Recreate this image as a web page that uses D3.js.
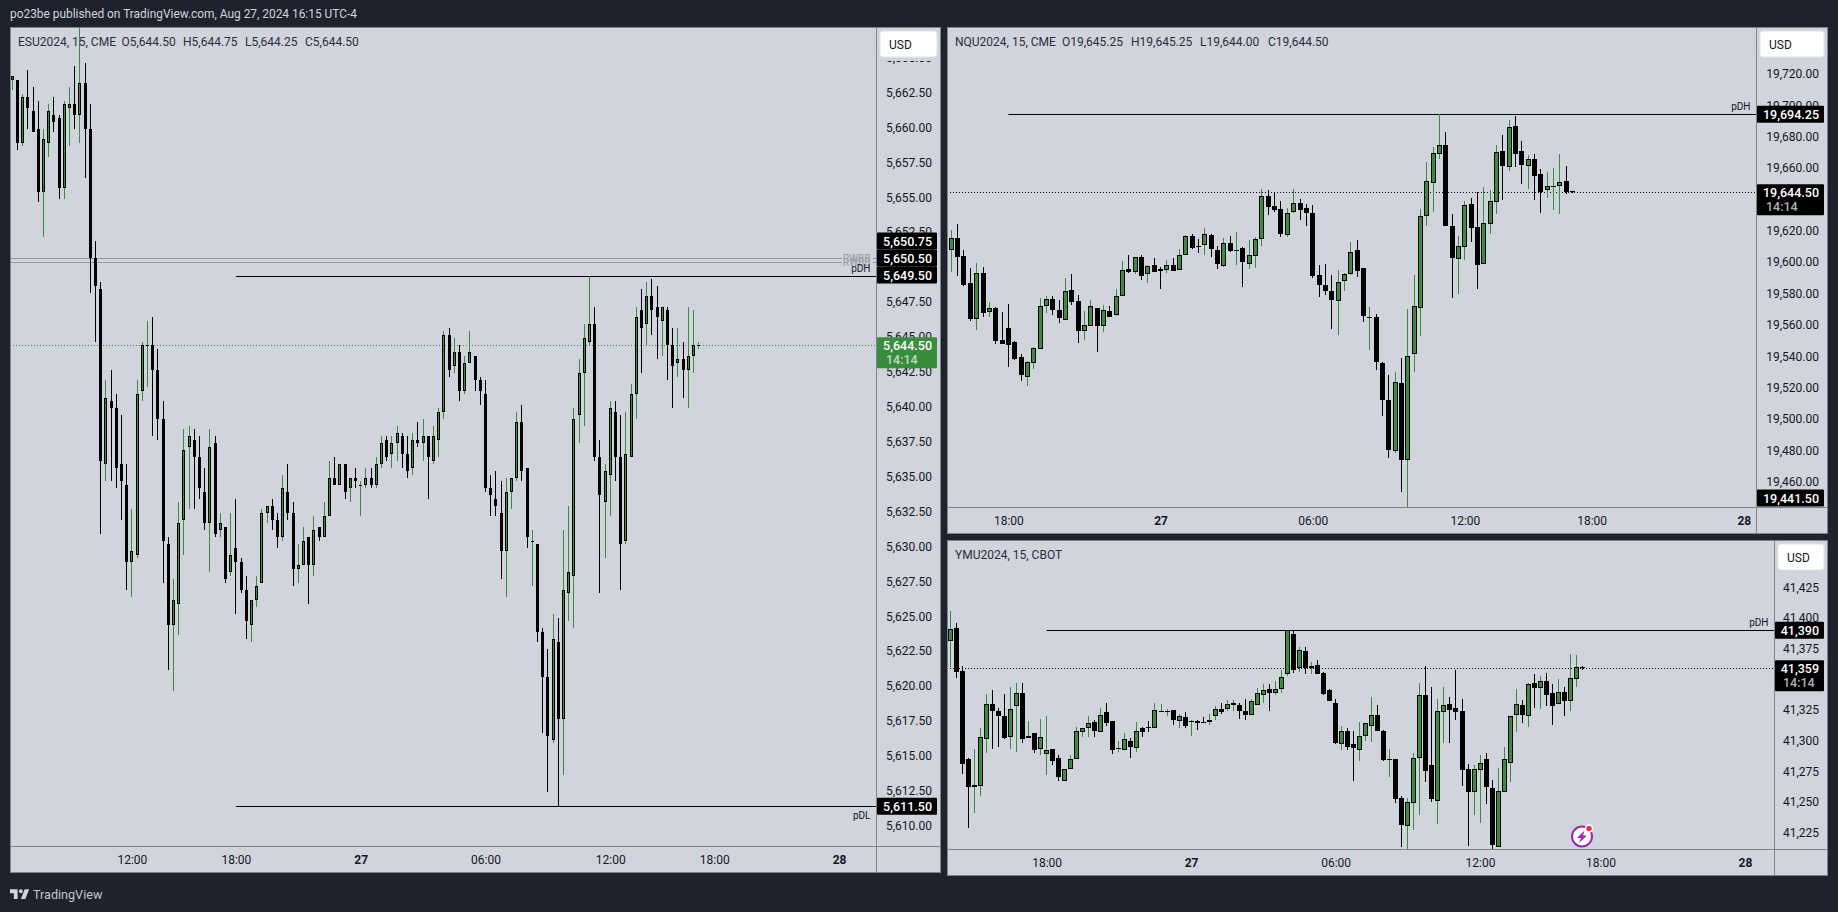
<!DOCTYPE html>
<html><head><meta charset="utf-8">
<script src="https://cdn.jsdelivr.net/npm/d3@7/dist/d3.min.js"></script>
<style>html,body{margin:0;padding:0;background:#1e222d;overflow:hidden}svg{display:block}text{font-family:Roboto,"Liberation Sans",sans-serif}</style>
</head><body><svg id="c" width="1838" height="912"></svg>
<script>
// [open, high, low, close]
const esCandles=[
[5663.5,5663.75,5662.75,5663.75],[5663.5,5663.5,5658.5,5659],[5659,5662.5,5658.75,5662.25],[5662.25,5664.25,5660,5661.5],[5661.25,5663,5659.75,5659.75],
[5660,5662,5654.75,5655.5],[5655.5,5660,5652.25,5659.25],[5659,5661.75,5658,5661.25],[5661,5662.25,5659.75,5660.5],[5660.75,5661,5655,5655.75],
[5655.75,5662,5655,5661.75],[5661.5,5663,5658.75,5661.75],[5661.75,5664.5,5660,5661],[5661,5667.5,5659,5663.25],[5663.25,5664.75,5656.5,5660],
[5660,5661.75,5648.25,5650.75],[5650.75,5652,5644.75,5648.75],[5648.5,5649,5631,5636.25],[5636,5642,5634.75,5640.75],[5640.5,5642.75,5634.75,5640],
[5640,5641,5634.25,5635.75],[5636,5639.5,5632,5634.75],[5634.5,5636,5627,5629],[5629,5632.75,5626.5,5629.75],[5629.5,5642,5629.25,5641],
[5641.25,5644.75,5640.5,5644.5],[5644.5,5646.25,5641.5,5644.5],[5644.5,5646.5,5638,5642.75],[5642.75,5644.25,5637.75,5639.25],[5639.25,5640.5,5627.5,5630.5],
[5630.25,5630.75,5621.25,5624.5],[5624.5,5627.75,5619.75,5626.25],[5626,5633.25,5623.75,5631.75],[5632,5638.5,5629.5,5637],[5637.25,5638.75,5632.75,5638],
[5637.75,5638.5,5632.75,5636.5],[5636.5,5638,5633.5,5634.25],[5634,5635.75,5631.25,5631.75],[5631.75,5638.5,5628.25,5637.25],[5637.5,5638,5630.75,5631],
[5631.25,5632.5,5630.75,5631.75],[5631.5,5631.5,5627.5,5627.75],[5628.25,5632.5,5628,5629.5],[5630,5633.5,5625.25,5629],[5629,5629.25,5626.75,5627],
[5627,5628,5623.5,5624.75],[5624.5,5626.25,5623.25,5626.25],[5626.25,5628,5625.75,5627.25],[5627.5,5632.75,5627.5,5632.5],[5632.5,5633,5631.75,5633],
[5633,5633.5,5631.25,5632],[5632,5632.5,5630,5630.75],[5630.75,5635.25,5630.5,5634.25],[5634,5636,5632,5632.5],[5632.5,5633.25,5627.25,5628.5],
[5628.5,5630.25,5627.5,5628.75],[5628.75,5631.5,5628.75,5630.5],[5630.75,5630.75,5626,5628.75],[5628.75,5632.25,5628,5631.25],[5631.5,5631.5,5630.5,5630.75],
[5630.75,5633.25,5630.75,5632.25],[5632.25,5636.25,5632.25,5635],[5635,5636.5,5634.5,5634.5],[5634.5,5636,5634.5,5636],[5636,5636,5633.5,5634],
[5634.25,5635,5633.25,5635],[5635,5635.75,5634.25,5634.75],[5634.5,5634.75,5632.25,5634.5],[5634.5,5635.75,5634.25,5635],[5635,5635.75,5634.25,5634.5],
[5634.5,5636.5,5634.25,5636],[5636,5638,5635.75,5637.5],[5637.75,5638,5636.25,5636.5],[5636.75,5638,5635.75,5637.5],[5637.5,5638.75,5636.25,5638.25],
[5638,5638.25,5635.75,5636.75],[5636.75,5638,5635,5635.5],[5635.75,5638.25,5635.25,5637.75],[5637.75,5639,5637.25,5637.5],[5637.5,5639.25,5636.25,5638],
[5638,5638,5633.5,5636.5],[5636.25,5638.75,5636,5638],[5637.75,5640,5636.5,5639.75],[5639.75,5645.5,5639.25,5645.25],[5645.25,5645.75,5642.25,5642.75],
[5643,5645,5642.5,5644],[5644,5644.5,5640.5,5641.25],[5641.25,5643.75,5641,5643.25],[5643.25,5645.5,5643.25,5644],[5643.75,5643.75,5641.25,5642],
[5642,5642.25,5640.25,5641.25],[5641,5642,5634,5634.25],[5634.25,5635.25,5632.25,5633.75],[5633.5,5635.5,5632.25,5633],[5632.5,5634.75,5627.75,5629.75],
[5629.75,5635,5626.5,5634],[5634,5635,5632.75,5635],[5635,5639.75,5634.75,5639],[5639,5640.25,5634.75,5635.5],[5635.75,5635.75,5630,5630.75],
[5630.5,5631.25,5627.25,5630.5],[5630.25,5630.25,5623.25,5624],[5624,5624.25,5616.75,5620.75],[5620.75,5622.75,5612.5,5616.5],[5616.25,5625.25,5616,5623.5],
[5623.25,5625,5611.5,5617.75],[5617.75,5631.25,5613.75,5627],[5626.75,5633,5624.75,5628.25],[5628,5640,5624.25,5639.25],[5639.5,5643.5,5637.5,5642.5],
[5642.5,5646,5638.75,5645],[5644.75,5649.5,5644.5,5646],[5646,5647.25,5636.25,5636.5],[5636.5,5637.75,5626.75,5633.75],[5633.25,5636,5629.25,5635.5],
[5635.25,5640.5,5632.25,5640],[5639.75,5640.5,5634.75,5636.5],[5636.5,5639.5,5627,5630.25],[5630.5,5639.75,5630.25,5636.75],[5636.5,5641.75,5636.5,5641],
[5641,5647.25,5639.25,5646.5],[5647,5648.5,5642.5,5645.75],[5646,5649,5644.5,5648],[5648,5649.25,5645.25,5647],[5647.25,5648.75,5643.5,5646.5],
[5646.25,5647.25,5643.75,5647.25],[5647,5647.25,5642,5644.5],[5644.5,5645.75,5640,5643],[5643.25,5645.75,5642.25,5643.5],[5643.5,5644.75,5640.75,5642.75],
[5642.75,5647.25,5640,5643.75],[5643.75,5647,5642.5,5644.5],[5644.5,5644.75,5644.25,5644.5]];
const nqCandles=[
[19608,19620.25,19593.75,19615.25],[19615.25,19624,19591,19603.5],[19603.75,19607.75,19584.75,19585.5],[19586.75,19596.25,19562.5,19563.75],[19563.75,19599.25,19556.75,19592.75],
[19592.75,19597,19565,19567.5],[19568.25,19574.5,19565,19570.5],[19570.5,19571.25,19547.75,19549.75],[19550,19568.25,19547.75,19547.75],[19557.75,19573.25,19533,19547],
[19548.75,19549.5,19537.5,19538.25],[19539.25,19541.5,19524.25,19528],[19526.75,19536.75,19521,19536],[19535.75,19545.75,19531.75,19545],[19544.75,19577,19544.75,19571.75],
[19572,19578.25,19567.5,19576.25],[19576.25,19578.25,19566.25,19569.5],[19569.75,19575.75,19561,19564.25],[19563,19589.75,19563,19581.25],[19582,19592.5,19572.5,19574.5],
[19575.5,19578.75,19548.5,19556],[19556,19568.75,19550.25,19559.75],[19559.25,19575.75,19559.25,19571.75],[19570.5,19570.5,19542.75,19559.25],[19559.25,19572.75,19555.5,19569.75],
[19568.75,19572,19565,19565],[19566.25,19582.75,19565.5,19578.25],[19578.25,19600.75,19578.25,19594.75],[19595.5,19604.5,19593,19593.75],[19593.75,19603,19592.5,19603],
[19603,19604.5,19588.5,19591],[19592.5,19598,19586.75,19597.25],[19598,19602.5,19593.75,19594],[19595.5,19596.75,19582.75,19594.5],[19595,19601.25,19593,19598],
[19598,19602.5,19594.25,19594.25],[19595,19608.25,19595,19604.25],[19604.5,19617.25,19604.5,19616.5],[19616.5,19618,19608.25,19609],[19610.25,19614.5,19605.75,19610],
[19611,19621.75,19604.5,19617.75],[19617,19618,19603.25,19608.25],[19608,19610.25,19595.5,19599],[19597.75,19615.25,19597,19612.5],[19612,19616.5,19606.5,19607],
[19608,19619.25,19598,19608],[19608.75,19609.5,19584,19600],[19599,19614,19595.5,19604.25],[19604,19615.75,19596.25,19614.5],[19615,19646.5,19610.25,19642],
[19642,19645.75,19630,19635.25],[19635.5,19644.5,19632,19633.25],[19633.75,19638.75,19616,19618],[19617.5,19634.25,19616,19631],[19632.25,19646.5,19631.5,19637.5],
[19637.5,19640,19626.75,19633.5],[19634.25,19637,19623,19631.5],[19631,19636.25,19589.75,19591],[19591.5,19598,19577.75,19585.5],[19585.25,19598.75,19579,19581.75],
[19581.25,19591.75,19557.25,19575.75],[19575.5,19595,19553.5,19587],[19588.25,19593,19581.5,19592.25],[19592.5,19612.75,19591.75,19606.75],[19607.5,19614,19590.5,19594.25],
[19596,19596,19561.75,19565.5],[19565.25,19571.25,19544,19565.25],[19564.75,19566.75,19531.25,19536.25],[19535.5,19536.25,19501.75,19512],[19511.75,19528,19475,19480],
[19479.75,19530,19478.5,19523.25],[19522.75,19538.75,19453.25,19473.75],[19473.75,19570,19441.5,19540],[19541.5,19591.75,19530,19571.75],[19570.75,19633.75,19552.75,19629.25],
[19629.5,19663.75,19623,19651.5],[19650.5,19673.5,19632,19669.5],[19669,19694.25,19665.75,19675],[19675,19683,19623,19623],[19623,19630.75,19577,19602.5],
[19602,19616.75,19579.75,19610],[19609.75,19638.75,19601.25,19636.25],[19636.75,19641,19612.75,19621.75],[19622.5,19644.5,19582.75,19598],[19598.75,19647.75,19598.75,19624.75],
[19624.25,19645.75,19618,19638.75],[19638.5,19675,19630.75,19670],[19670.75,19681,19639.5,19661.25],[19660.75,19690.75,19658,19686],[19686.5,19693.25,19660.75,19669],
[19670.75,19677,19649.75,19662],[19661.5,19668.25,19646.5,19665.5],[19665.5,19669,19639.5,19655],[19656.25,19659.5,19631.25,19644.75],[19646.25,19657.5,19641,19648.25],
[19648.25,19660,19633.25,19648.75],[19648.75,19669,19630.75,19651],[19651.75,19661.25,19643.5,19644.75],[19645.25,19645.25,19644,19644.5]];
const ymCandles=[
[41381,41406,41360,41391],[41392,41396,41351,41356],[41357,41361,41273,41281],[41285,41286,41229,41262],[41262,41293,41241,41264],
[41263,41310,41255,41303],[41301,41338,41290,41330],[41330,41341,41293,41324],[41324,41327,41295,41320],[41320,41338,41301,41302],
[41303,41344,41293,41326],[41328,41347,41291,41339],[41339,41347,41298,41301],[41302,41316,41302,41304],[41306,41306,41290,41292],
[41293,41318,41288,41303],[41289,41320,41272,41292],[41293,41293,41280,41283],[41286,41288,41267,41270],[41267,41277,41267,41277],
[41277,41288,41277,41285],[41285,41311,41285,41308],[41307,41310,41303,41310],[41310,41320,41303,41314],[41315,41317,41303,41308],
[41307,41327,41307,41321],[41323,41331,41312,41314],[41316,41316,41289,41292],[41294,41300,41291,41294],[41292,41306,41292,41301],
[41300,41302,41286,41295],[41294,41315,41291,41308],[41310,41311,41303,41307],[41311,41316,41307,41310],[41310,41331,41310,41325],
[41323,41330,41323,41324],[41324,41326,41320,41324],[41325,41325,41313,41317],[41316,41322,41310,41320],[41319,41323,41310,41312],
[41316,41317,41304,41316],[41316,41317,41309,41314],[41315,41319,41314,41314],[41315,41322,41313,41317],[41320,41328,41317,41326],
[41326,41331,41322,41323],[41326,41333,41324,41330],[41329,41333,41324,41331],[41329,41331,41318,41324],[41324,41334,41317,41321],
[41321,41334,41321,41332],[41329,41343,41329,41339],[41337,41346,41331,41341],[41342,41346,41324,41339],[41339,41349,41337,41342],
[41342,41358,41339,41352],[41354,41390,41353,41390],[41387,41390,41355,41358],[41359,41376,41356,41374],[41373,41376,41354,41359],
[41359,41364,41354,41361],[41362,41366,41354,41354],[41355,41356,41337,41338],[41341,41342,41332,41332],[41331,41334,41297,41298],
[41297,41312,41292,41308],[41308,41310,41292,41295],[41297,41308,41267,41294],[41292,41315,41283,41304],[41304,41314,41300,41314],
[41312,41336,41299,41321],[41321,41329,41308,41308],[41308,41309,41283,41284],[41285,41293,41270,41285],[41285,41285,41249,41252],
[41253,41255,41213,41231],[41230,41253,41211,41250],[41249,41290,41227,41286],[41286,41347,41239,41337],[41337,41361,41266,41275],
[41280,41344,41250,41252],[41251,41334,41232,41324],[41323,41344,41298,41329],[41330,41336,41298,41325],[41327,41358,41317,41323],
[41324,41334,41263,41276],[41277,41281,41214,41258],[41258,41280,41239,41277],[41276,41288,41233,41282],[41285,41290,41248,41262],
[41261,41268,41212,41215],[41213,41278,41213,41259],[41258,41295,41258,41285],[41282,41320,41266,41320],[41321,41342,41307,41330],
[41329,41333,41314,41321],[41320,41347,41311,41346],[41347,41354,41327,41343],[41343,41353,41326,41349],[41349,41355,41328,41337],
[41339,41346,41313,41328],[41330,41350,41330,41340],[41340,41344,41320,41332],[41332,41371,41324,41351],[41350,41370,41344,41360],
[41360,41361,41358,41359]];

const esTicks=[5665,5662.5,5660,5657.5,5655,5652.5,5650,5647.5,5645,5642.5,5640,5637.5,5635,5632.5,5630,5627.5,5625,5622.5,5620,5617.5,5615,5612.5,5610];
const nqTicks=[19720,19700,19680,19660,19640,19620,19600,19580,19560,19540,19520,19500,19480,19460];
const ymTicks=[41425,41400,41375,41350,41325,41300,41275,41250,41225];
const esTimeBars=[23,43,67,91,115,135,159];
const esTimeLabels=["12:00","18:00","27","06:00","12:00","18:00","28"];
const nqTimeBars=[9,33,57,81,101,125];
const ymTimeBars=[16,40,64,88,108,132];
const otherTimeLabels=["18:00","27","06:00","12:00","18:00","28"];

const GREEN="#388e3c",INK="#131722",PANE="#d1d4dc",EDGE="#80838d";
const fmt2=d3.format(",.2f"),fmt0=d3.format(",");
const svg=d3.select("#c");

svg.append("text").attr("x",10).attr("y",17.5).attr("fill","#d1d4dc").attr("font-size",11.9).text("po23be published on TradingView.com, Aug 27, 2024 16:15 UTC-4");

function pane(c,id){
  const g=svg.append("g");
  const W=c.right-c.left,H=c.bottom-c.top;
  g.append("rect").attr("x",c.left+.5).attr("y",c.top+.5).attr("width",W-1).attr("height",H-1).attr("fill",PANE).attr("stroke",EDGE);
  const y=d3.scaleLinear().domain(c.priceAnchors).range(c.pixelAnchors);
  const x=d3.scaleLinear().domain([0,c.bars.length-1]).range(c.xRange);
  const defs=svg.append("defs");
  defs.append("clipPath").attr("id",id).append("rect").attr("x",c.left+1).attr("y",c.top+1).attr("width",c.axisX-c.left-1).attr("height",c.timeY-c.top-1);
  defs.append("clipPath").attr("id",id+"a").append("rect").attr("x",c.axisX).attr("y",c.top+1).attr("width",c.right-c.axisX-1).attr("height",c.timeY-c.top-1);
  g.append("line").attr("x1",c.axisX+.5).attr("x2",c.axisX+.5).attr("y1",c.top).attr("y2",c.bottom).attr("stroke",EDGE);
  g.append("line").attr("x1",c.left).attr("x2",c.right).attr("y1",c.timeY+.5).attr("y2",c.timeY+.5).attr("stroke",EDGE);
  const ay=g.append("g").attr("clip-path",`url(#${id}a)`).append("g").attr("transform",`translate(${c.right-9},${c.tickShift||0})`)
    .call(d3.axisRight(y).tickValues(c.ticks).tickSize(0).tickFormat(c.fmt));
  ay.select(".domain").remove();
  ay.selectAll("text").attr("x",0).attr("text-anchor","end").attr("font-size",12).attr("fill",INK).attr("font-family","Roboto").attr("dy",".32em");
  const ax=g.append("g").attr("transform",`translate(0,${c.timeY})`)
    .call(d3.axisBottom(x).tickValues(c.timeBars).tickSize(0).tickFormat((d,i)=>c.timeLabels[i]));
  ax.select(".domain").remove();
  ax.selectAll("text").attr("y",14).attr("dy",".32em").attr("font-size",12).attr("fill",INK).attr("font-family","Roboto")
    .attr("font-weight",(d,i)=>/^\d\d$/.test(c.timeLabels[i])?700:400);
  const p=g.append("g").attr("clip-path",`url(#${id})`);
  (c.greyLines||[]).forEach(v=>{
    const yy=Math.round(y(v))+.5;
    p.append("line").attr("x1",c.left).attr("x2",c.greyLabelX-5).attr("y1",yy).attr("y2",yy).attr("stroke","#9598a1");
    p.append("line").attr("x1",c.axisX-3).attr("x2",c.axisX).attr("y1",yy).attr("y2",yy).attr("stroke","#9598a1");
    p.append("text").attr("x",c.axisX-5.5).attr("y",yy+3).attr("text-anchor","end").attr("font-size",10).attr("fill","#9598a1").text("RWBB");
  });
  const last=c.bars[c.bars.length-1][3];
  const ly=Math.round(y(last))+.5;
  p.append("line").attr("x1",c.left).attr("x2",c.axisX).attr("y1",ly).attr("y2",ly).attr("stroke",c.lastColor).attr("stroke-dasharray","1 2");
  c.levels.forEach(l=>{
    const yy=Math.round(y(l.v))+.5;
    p.append("line").attr("x1",x(l.from)).attr("x2",c.axisX).attr("y1",yy).attr("y2",yy).attr("stroke","#000");
    p.append("text").attr("x",c.axisX-5.5).attr("y",yy+(l.below?12:-5)).attr("text-anchor","end").attr("font-size",10).attr("fill",INK).text(l.t);
  });
  const w=c.bodyW,half=Math.floor(w/2);
  const up=d=>d[3]>=d[0];
  const cs=p.selectAll("g.k").data(c.bars).join("g").attr("class","k").attr("shape-rendering","crispEdges");
  cs.append("rect").attr("x",(d,i)=>Math.floor(x(i))).attr("width",1)
    .attr("y",d=>Math.round(y(d[1]))).attr("height",d=>Math.max(1,Math.round(y(d[2]))-Math.round(y(d[1]))))
    .attr("fill",d=>up(d)?GREEN:"#000");
  const top=d=>Math.round(y(Math.max(d[0],d[3]))),bot=d=>Math.round(y(Math.min(d[0],d[3])));
  cs.append("rect").attr("x",(d,i)=>Math.floor(x(i))-half).attr("width",w)
    .attr("y",top).attr("height",d=>Math.max(1,bot(d)-top(d))).attr("fill","#000");
  cs.filter(d=>up(d)&&bot(d)-top(d)>2).append("rect").attr("x",(d)=>Math.floor(x(c.bars.indexOf(d)))-half+1).attr("width",w-2)
    .attr("y",d=>top(d)+1).attr("height",d=>bot(d)-top(d)-2).attr("fill",GREEN);
  const lab=g.append("g");
  const lx=c.axisX+1,lw=c.right-c.axisX-5;
  c.labels.forEach(l=>{
    const cy=l.cy!==undefined?l.cy:y(l.v);
    const h=l.timer?31:17,top=l.timer?cy-8:cy-8.5;
    lab.append("rect").attr("x",lx).attr("y",top).attr("width",lw).attr("height",h).attr("fill",l.bg||"#000").attr("rx",1);
    lab.append("text").attr("x",c.right-9).attr("y",cy+4.5).attr("text-anchor","end").attr("font-size",12.5).attr("font-weight",500).attr("fill","#fff").text(c.fmt(l.v));
    if(l.timer) lab.append("text").attr("x",c.timerX).attr("y",cy+18.5).attr("text-anchor","start").attr("font-size",12.5).attr("font-weight",500).attr("fill","#fff").attr("fill-opacity",.7).text(l.timer);
  });
  // axis area behind the USD button stays blank
  lab.append("rect").attr("x",c.axisX+1).attr("y",c.top+1).attr("width",c.right-c.axisX-2).attr("height",33).attr("fill",PANE);
  lab.append("rect").attr("x",c.axisX+4).attr("y",c.top+4).attr("width",c.right-c.axisX-8).attr("height",26).attr("rx",3).attr("fill","#fff").attr("stroke","#e0e3eb");
  lab.append("text").attr("x",c.axisX+13).attr("y",c.top+21.5).attr("font-size",12).attr("fill",INK).text("USD");
  const t=g.append("g");
  c.legend.forEach(s=>t.append("text").attr("x",s[0]).attr("y",c.top+18.5).attr("font-size",12).attr("fill","#2a2e39").text(s[1]));
  return {x,y};
}

pane({left:10,right:941,top:27,bottom:873,axisX:876,timeY:846,bars:esCandles,priceAnchors:[5644.5,5649.5],pixelAnchors:[345.33,275.5],xRange:[12.3,12.3+132*5.2],
  ticks:esTicks,fmt:fmt2,timeBars:esTimeBars,timeLabels:esTimeLabels,bodyW:3,lastColor:GREEN,tickShift:-1.5,
  greyLines:[5650.75,5650.5],greyLabelX:847,timerX:886,
  levels:[{v:5649.5,from:43,t:"pDH"},{v:5611.5,from:43,t:"pDL",below:true}],
  labels:[{v:5650.75,cy:241},{v:5650.5,cy:258},{v:5649.5,cy:275},{v:5611.5},{v:5644.5,timer:"14:14",bg:GREEN}],
  legend:[[18,"ESU2024, 15, CME"],[121.5,"O5,644.50"],[183,"H5,644.75"],[245,"L5,644.25"],[305,"C5,644.50"]]},"pa");

pane({left:947,right:1828,top:27,bottom:534,axisX:1756,timeY:507,bars:nqCandles,priceAnchors:[19644.5,19694.25],pixelAnchors:[192.33,114.33],xRange:[951.3,951.3+98*6.34],
  ticks:nqTicks,fmt:fmt2,timeBars:nqTimeBars,timeLabels:otherTimeLabels,bodyW:5,lastColor:"#000",timerX:1766,
  levels:[{v:19694.25,from:9,t:"pDH"}],
  labels:[{v:19694.25},{v:19644.5,timer:"14:14"},{v:19441.5,cy:498}],
  legend:[[955,"NQU2024, 15, CME"],[1062,"O19,645.25"],[1131,"H19,645.25"],[1200,"L19,644.00"],[1268,"C19,644.50"]]},"pb");

pane({left:947,right:1828,top:540,bottom:876,axisX:1774,timeY:849,bars:ymCandles,priceAnchors:[41359,41390],pixelAnchors:[668.33,630.33],xRange:[950.3,950.3+105*6.02],
  ticks:ymTicks,fmt:fmt0,timeBars:ymTimeBars,timeLabels:otherTimeLabels,bodyW:5,lastColor:"#000",timerX:1783,
  levels:[{v:41390,from:16,t:"pDH"}],
  labels:[{v:41390},{v:41359,timer:"14:14"}],
  legend:[[955,"YMU2024, 15, CBOT"]]},"pc");

const b=svg.append("g").attr("transform","translate(1582,836.5)");
b.append("circle").attr("r",10).attr("fill","#fff").attr("stroke","#9c27b0").attr("stroke-width",2);
b.append("path").attr("d","M2.5,-6 L-5,1.5 L-1,1.5 L-3,6.5 L5,-1 L1,-1 Z").attr("fill","#9c27b0");
b.append("circle").attr("cx",7).attr("cy",-8).attr("r",4.2).attr("fill","#fff");
b.append("circle").attr("cx",7).attr("cy",-8).attr("r",2.8).attr("fill","#f23645");

const logo=svg.append("g").attr("transform","translate(8.7,885.5) scale(.64)");
logo.append("path").attr("d","M14 6H2v6h6v9h6V6Zm12 15h-7l6-15h7l-6 15Zm-7-9a3 3 0 1 0 0-6 3 3 0 0 0 0 6Z").attr("fill","#d1d4dc");
svg.append("text").attr("x",33).attr("y",899).attr("font-size",12.6).attr("fill","#c3c6ce").text("TradingView");
</script></body></html>
